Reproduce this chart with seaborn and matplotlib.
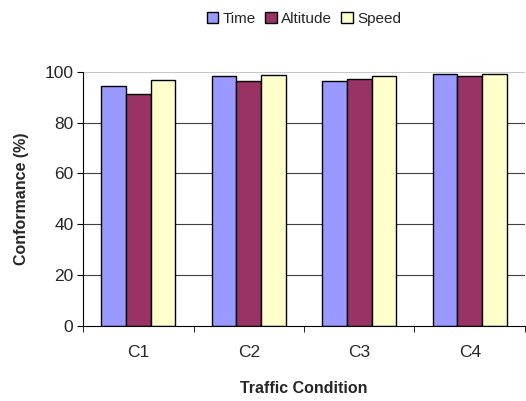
import matplotlib
matplotlib.use("Agg")
import matplotlib.pyplot as plt
import seaborn as sns
import pandas as pd
import numpy as np

categories = ["C1", "C2", "C3", "C4"]
time_vals = [94.4, 98.2, 96.3, 99.3]
altitude_vals = [91.2, 96.3, 97.0, 98.2]
speed_vals = [96.9, 98.8, 98.2, 99.3]
series = ["Time", "Altitude", "Speed"]
colors = ["#9999FF", "#993366", "#FFFFCC"]

df = pd.DataFrame({
    "Condition": categories * 3,
    "Series": ["Time"] * 4 + ["Altitude"] * 4 + ["Speed"] * 4,
    "Value": time_vals + altitude_vals + speed_vals,
})

sns.set_style("white")
plt.rcParams['font.family'] = ['Liberation Sans', 'DejaVu Sans']

fig = plt.figure(figsize=(5.26, 4.01), dpi=100)
ax = fig.add_axes([0.158, 0.187, 0.84, 0.634])

sns.barplot(data=df, x="Condition", y="Value", hue="Series", hue_order=series,
            palette=colors, width=0.67, edgecolor="black", linewidth=1.0,
            saturation=1, ax=ax, gap=0)

ax.set_ylim(0, 100)
ax.set_xlim(-0.5, 3.5)
ax.set_yticks([0, 20, 40, 60, 80, 100])
for yv in [20, 40, 60, 80]:
    ax.axhline(yv, color="#404040", linewidth=0.8, zorder=0)
ax.axhline(100, color="#C8C8C8", linewidth=0.8, zorder=0)
ax.set_axisbelow(True)
for s in ["top", "right"]:
    ax.spines[s].set_visible(False)
for s in ["left", "bottom"]:
    ax.spines[s].set_color("black")
    ax.spines[s].set_linewidth(0.8)

ax.tick_params(axis="y", which="major", direction="out", length=4, color="black",
               labelsize=12.5, left=True, pad=3)
ax.tick_params(axis="x", which="major", length=0, labelsize=12.5, pad=14)
ax.set_xticks(np.arange(-0.5, 4.0, 1.0), minor=True)
ax.tick_params(axis="x", which="minor", direction="out", length=4, color="black", bottom=True)

ax.set_xlabel("Traffic Condition", fontsize=11.5, fontweight="bold", labelpad=15)
ax.set_ylabel("Conformance (%)", fontsize=11.5, fontweight="bold", labelpad=11)

leg = ax.legend(loc="upper center", bbox_to_anchor=(0.5, 1.29), ncol=3, frameon=False,
                fontsize=11, handlelength=0.75, handleheight=0.75, handletextpad=0.3,
                columnspacing=0.6)

fig.savefig("out.png", dpi=100)
